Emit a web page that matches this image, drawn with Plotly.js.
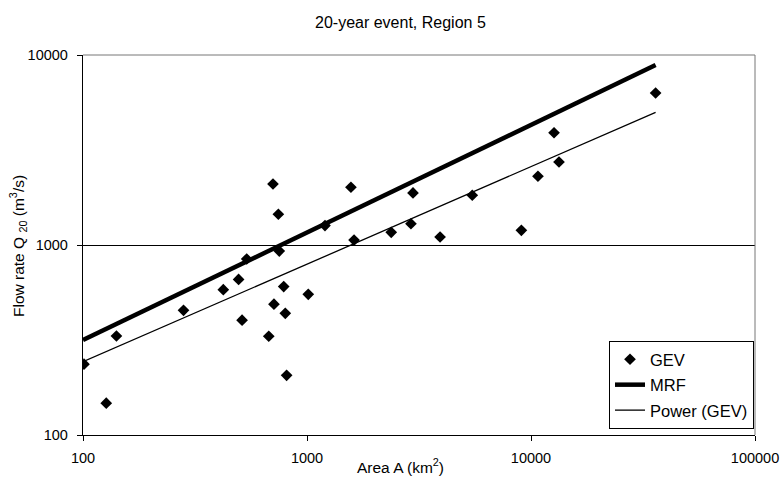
<!DOCTYPE html>
<html>
<head>
<meta charset="utf-8">
<script src="https://cdn.plot.ly/plotly-3.0.1.min.js"></script>
<style>html,body{margin:0;padding:0;background:#fff;}#chart{width:782px;height:477px;}</style>
</head>
<body>
<div id="chart"></div>
<script>
// GEV observed points (area km², flow m³/s)
const gevArea = [101, 127, 141, 281, 423, 495, 513, 538, 705, 745, 752, 675, 712, 787, 800, 811, 1013, 1203,
                 1571, 2973, 1622, 2377, 2911, 3927, 5468, 9058, 10741, 12673, 13335, 36000];
const gevFlow = [236, 147, 332, 453, 582, 659, 402, 844, 2094, 1452, 929, 331, 488, 604, 437, 206, 550, 1265,
                 2014, 1879, 1061, 1166, 1294, 1102, 1827, 1194, 2300, 3898, 2735, 6310];
// MRF curve end points
const mrfArea = [100, 36000];
const mrfFlow = [316, 8850];
// Power fit of GEV
const powArea = [100, 36000];
const powFlow = [243, 4990];

const xTicks = [100, 1000, 10000, 100000];
const xTickText = ['100', '1000', '10000', '100000'];
const yTicks = [100, 1000, 10000];
const yTickText = ['100', '1000', '10000'];

const font = {family: 'Liberation Sans, Arial, sans-serif', color: '#000'};
const f = s => Object.assign({size: s}, font);

const traces = [
  {x: gevArea, y: gevFlow, mode: 'markers', type: 'scatter', name: 'GEV', legendgroup: 'a',
   marker: {symbol: 'diamond', size: 9, color: '#000'}},
  {x: mrfArea, y: mrfFlow, mode: 'lines', type: 'scatter', name: 'MRF', legendgroup: 'b',
   line: {color: '#000', width: 4.5}},
  {x: powArea, y: powFlow, mode: 'lines', type: 'scatter', name: 'Power (GEV)', legendgroup: 'c',
   line: {color: '#000', width: 1.3}}
];

const layout = {
  width: 782, height: 477,
  margin: {l: 83, r: 27, t: 55, b: 42},
  paper_bgcolor: '#fff', plot_bgcolor: '#fff',
  font: f(14),
  showlegend: true,
  legend: {x: (609-83)/672, y: (435-341)/380, xanchor: 'left', yanchor: 'top', bgcolor: '#fff',
           bordercolor: '#000', borderwidth: 1, font: f(16.5),
           tracegroupgap: 1, traceorder: 'grouped'},
  xaxis: {type: 'log', range: [2, 5], tickvals: xTicks, ticktext: xTickText,
          showgrid: false, zeroline: false, showline: true, linecolor: '#000', linewidth: 1.2,
          ticks: 'outside', ticklen: 5, tickcolor: '#000', tickfont: f(14.5), ticklabelstandoff: 4},
  yaxis: {type: 'log', range: [2, 4], tickvals: yTicks, ticktext: yTickText,
          showgrid: true, gridcolor: '#000', gridwidth: 1, zeroline: false,
          showline: true, linecolor: '#000', linewidth: 1.2,
          ticks: 'outside', ticklen: 5, tickcolor: '#000', tickfont: f(14.5), ticklabelstandoff: 6},
  shapes: [
    {type: 'line', xref: 'paper', yref: 'paper', x0: 0, x1: 1, y0: 1, y1: 1, line: {color: '#777', width: 1}},
    {type: 'line', xref: 'paper', yref: 'paper', x0: 1, x1: 1, y0: 0, y1: 1, line: {color: '#777', width: 1}}
  ],
  annotations: [
    {text: '20-year event, Region 5', xref: 'paper', yref: 'paper', x: (400-83)/672, y: (435-23)/380,
     xanchor: 'center', yanchor: 'middle', showarrow: false, font: f(16)},
    {text: 'Area A (km<sup>2</sup>)', xref: 'paper', yref: 'paper', x: (400-83)/672, y: (435-466)/380,
     xanchor: 'center', yanchor: 'middle', showarrow: false, font: f(15.5)},
    {text: 'Flow rate Q <sub>20</sub> (m<sup>3</sup>/s)', xref: 'paper', yref: 'paper', x: (18-83)/672, y: (435-246)/380,
     xanchor: 'center', yanchor: 'middle', textangle: -90, showarrow: false, font: f(15.5)}
  ]
};

Plotly.newPlot('chart', traces, layout, {displayModeBar: false, staticPlot: true});
</script>
</body>
</html>
